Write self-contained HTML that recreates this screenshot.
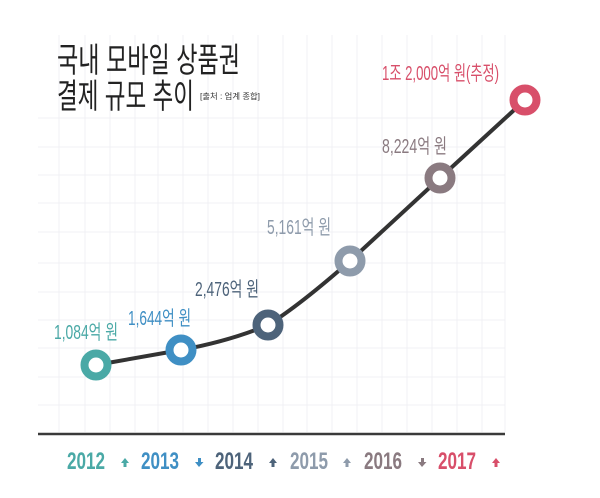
<!DOCTYPE html>
<html><head><meta charset="utf-8"><style>
html,body{margin:0;padding:0;background:#fff;}
svg{display:block;}
text{font-family:"Liberation Sans","Noto Sans CJK KR",sans-serif;}
</style></head><body>
<svg width="600" height="498" viewBox="0 0 600 498" xmlns="http://www.w3.org/2000/svg">
<rect width="600" height="498" fill="#fff"/>
<g stroke="#f0f0f4" stroke-width="1">
<line x1="38" y1="118" x2="505" y2="118"/><line x1="38" y1="147" x2="505" y2="147"/><line x1="38" y1="175" x2="505" y2="175"/><line x1="38" y1="203" x2="505" y2="203"/><line x1="38" y1="232" x2="505" y2="232"/><line x1="38" y1="263" x2="505" y2="263"/><line x1="38" y1="292" x2="505" y2="292"/><line x1="38" y1="320" x2="505" y2="320"/><line x1="38" y1="348" x2="505" y2="348"/><line x1="38" y1="377" x2="505" y2="377"/><line x1="38" y1="405" x2="505" y2="405"/>
<line x1="59" y1="35" x2="59" y2="432"/><line x1="85" y1="35" x2="85" y2="432"/><line x1="110" y1="35" x2="110" y2="432"/><line x1="135" y1="35" x2="135" y2="432"/><line x1="158" y1="35" x2="158" y2="432"/><line x1="183" y1="35" x2="183" y2="432"/><line x1="208" y1="35" x2="208" y2="432"/><line x1="233" y1="35" x2="233" y2="432"/><line x1="258" y1="35" x2="258" y2="432"/><line x1="283" y1="35" x2="283" y2="432"/><line x1="307" y1="35" x2="307" y2="432"/><line x1="332" y1="35" x2="332" y2="432"/><line x1="357" y1="35" x2="357" y2="432"/><line x1="382" y1="35" x2="382" y2="432"/><line x1="407" y1="35" x2="407" y2="432"/><line x1="432" y1="35" x2="432" y2="432"/><line x1="457" y1="35" x2="457" y2="432"/><line x1="482" y1="35" x2="482" y2="432"/><line x1="505" y1="35" x2="505" y2="432"/>
</g>
<line x1="38" y1="434" x2="505" y2="434" stroke="#3a3a3a" stroke-width="2.5"/>
<text x="57" y="72" font-size="34" fill="#222" textLength="183" lengthAdjust="spacingAndGlyphs">국내 모바일 상품권</text>
<text x="57" y="108" font-size="34" fill="#222" textLength="137" lengthAdjust="spacingAndGlyphs">결제 규모 추이</text>
<text x="200" y="99" font-size="8" fill="#333" textLength="60" lengthAdjust="spacingAndGlyphs">[출처 : 업계 종합]</text>
<path d="M96,365 L181,350 Q230,341 268,325 Q300,305 350,261 L440,178 L525,100" fill="none" stroke="#333" stroke-width="4" stroke-linecap="round"/>
<g stroke-width="8" fill="#fff">
<circle cx="96" cy="365" r="11.5" stroke="#4aa9a6"/>
<circle cx="181" cy="350" r="11.5" stroke="#3f8fc4"/>
<circle cx="268" cy="325" r="11.5" stroke="#4d637a"/>
<circle cx="350" cy="261" r="11.5" stroke="#8e9bab"/>
<circle cx="440" cy="178" r="11.5" stroke="#8a7a80"/>
<circle cx="525" cy="100" r="11.5" stroke="#d84f6a"/>
</g>
<g font-size="20">
<text x="54" y="339" fill="#4aa9a6" textLength="64" lengthAdjust="spacingAndGlyphs">1,084억 원</text>
<text x="128" y="325" fill="#3f8fc4" textLength="63" lengthAdjust="spacingAndGlyphs">1,644억 원</text>
<text x="195" y="296" fill="#4d637a" textLength="64" lengthAdjust="spacingAndGlyphs">2,476억 원</text>
<text x="267" y="234" fill="#8e9bab" textLength="64" lengthAdjust="spacingAndGlyphs">5,161억 원</text>
<text x="382" y="153" fill="#8a7a80" textLength="65" lengthAdjust="spacingAndGlyphs">8,224억 원</text>
<text x="382" y="80" fill="#d84f6a" textLength="117" lengthAdjust="spacingAndGlyphs">1조 2,000억 원(추정)</text>
</g>
<g font-size="24" font-weight="bold">
<text x="67" y="469" fill="#4aa9a6" textLength="38" lengthAdjust="spacingAndGlyphs">2012</text>
<text x="141" y="469" fill="#3f8fc4" textLength="38" lengthAdjust="spacingAndGlyphs">2013</text>
<text x="215" y="469" fill="#4d637a" textLength="38" lengthAdjust="spacingAndGlyphs">2014</text>
<text x="290" y="469" fill="#8e9bab" textLength="38" lengthAdjust="spacingAndGlyphs">2015</text>
<text x="364" y="469" fill="#8a7a80" textLength="38" lengthAdjust="spacingAndGlyphs">2016</text>
<text x="438" y="469" fill="#d84f6a" textLength="38" lengthAdjust="spacingAndGlyphs">2017</text>
</g>
<g>
<path d="M121,463 l4,-5 l4,5 h-2.5 v4 h-3 v-4z" fill="#4aa9a6"/>
<path d="M195,462 h3 v-4 h3 v4 h2.5 l-4.5,5z" fill="#3f8fc4"/>
<path d="M269,463 l4,-5 l4,5 h-2.5 v4 h-3 v-4z" fill="#4d637a"/>
<path d="M343,463 l4,-5 l4,5 h-2.5 v4 h-3 v-4z" fill="#8e9bab"/>
<path d="M418,462 h3 v-4 h3 v4 h2.5 l-4.5,5z" fill="#8a7a80"/>
<path d="M492,463 l4,-5 l4,5 h-2.5 v4 h-3 v-4z" fill="#d84f6a"/>
</g>
</svg>
</body></html>
